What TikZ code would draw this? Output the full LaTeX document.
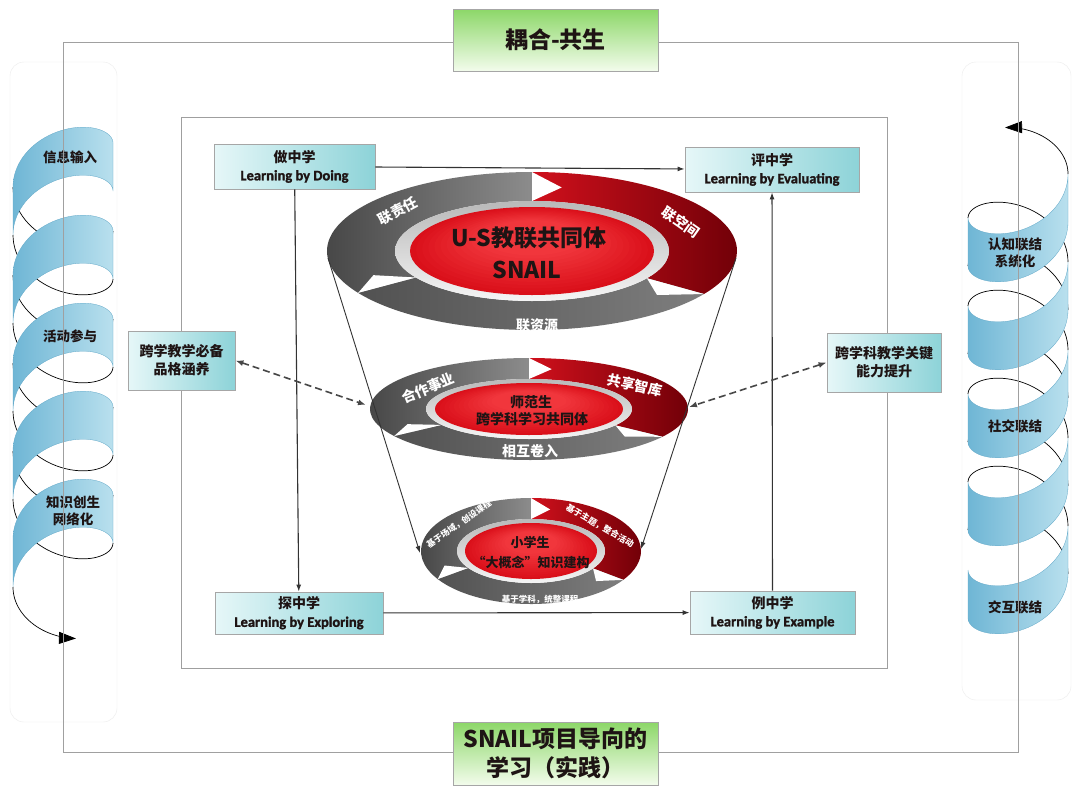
\documentclass[tikz,border=0pt]{standalone}
\usepackage{fontspec}
\setmainfont{Carlito}[BoldFeatures={FakeBold=1.5}]
\newfontfamily\cjk{Noto Sans CJK SC}
\usetikzlibrary{arrows.meta}
\definecolor{boxL}{HTML}{E6F7F8}
\definecolor{boxR}{HTML}{8DD3D8}
\definecolor{grnT}{HTML}{8CD768}
\definecolor{grnB}{HTML}{F3FCEC}
\definecolor{redA}{HTML}{D0101C}
\definecolor{redB}{HTML}{720008}
\definecolor{grayA}{HTML}{8C8C8C}
\definecolor{grayB}{HTML}{3E3E3E}
\definecolor{coreA}{HTML}{F2383E}
\definecolor{coreB}{HTML}{DA101A}
\definecolor{ribA}{HTML}{6FB6D5}
\definecolor{ribB}{HTML}{B9E0EE}
\definecolor{ribE}{HTML}{62A8C8}
\definecolor{frameC}{HTML}{A0A0A0}
\definecolor{darktext}{HTML}{1E1414}
\newcommand\snailring[9]{%
  \path[segL] ({#1+#3*cos(212)},{#2-#4*sin(212)}) arc[start angle=-212,end angle=-90,x radius=#3,y radius=#4]
     -- ({#1},{#2-#6}) arc[start angle=-90,end angle=-212,x radius=#5,y radius=#6] -- cycle;
  \path[segR] ({#1},{#2-#4}) arc[start angle=-90,end angle=33,x radius=#3,y radius=#4]
     -- ({#1+#5*cos(-33)},{#2-#6*sin(-33)}) arc[start angle=33,end angle=-90,x radius=#5,y radius=#6] -- cycle;
  \path[segB] ({#1+#3*cos(-33)},{#2-#4*sin(-33)}) arc[start angle=33,end angle=148,x radius=#3,y radius=#4]
     -- ({#1+#5*cos(212)},{#2-#6*sin(212)}) arc[start angle=148,end angle=33,x radius=#5,y radius=#6] -- cycle;
  \foreach \p in {90,-33,212}{%
    \fill[white] ({#1+#3*cos(\p)},{#2-#4*sin(\p)}) -- ({#1+#5*cos(\p)},{#2-#6*sin(\p)})
      -- ({#1+0.5*(#3+#5)*cos(\p-#9)},{#2-0.5*(#4+#6)*sin(\p-#9)}) -- cycle;}
  \path[bevel] (#1,#2) ellipse[x radius=#5,y radius=#6];
  \fill[coreB] (#1,#2) ellipse[x radius=#7,y radius=#8];
  \foreach \k in {1,...,12}{%
    \pgfmathsetmacro\rsf{1-0.05*\k}%
    \pgfmathtruncatemacro\rcm{\k*8}%
    \fill[coreA!\rcm!coreB] (#1,{#2-0.025*\k*#8}) ellipse[x radius={\rsf*#7},y radius={\rsf*#8}];}
}
\begin{document}
\begin{tikzpicture}[x=1pt,y=-1pt,
  declare function={la(\t)=63-50*cos(\t); lb(\t)=99+88*(\t/360)+35*sin(\t);
                    ra(\t)=1018-50*cos(\t); rb(\t)=570-88*(\t/360)+35*sin(\t);},
  ribbon/.style={left color=ribA, right color=ribB, draw=ribE, line width=0.3pt},
  edgeline/.style={draw=black, line width=0.7pt},
  tailarrow/.style={edgeline, -{Triangle[length=17pt,width=12pt]}},
  frame/.style={draw=frameC, line width=1pt},
  spl/.style={font=\cjk\bfseries\fontsize{13.5}{17}\selectfont, align=center, text=darktext, inner sep=0pt},
  cyanbox/.style={draw=gray!70, line width=0.8pt, left color=boxL, right color=boxR, align=center, inner sep=0pt, text=darktext, font=\fontsize{14}{18}\selectfont},
  greenbox/.style={draw=gray!70, line width=0.8pt, top color=grnT, bottom color=grnB, align=center, inner sep=0pt, text=darktext, font=\cjk\bfseries\fontsize{23}{29}\selectfont, minimum width=205pt},
  segL/.style={left color=grayB, right color=grayA},
  segR/.style={left color=redA, right color=redB},
  segB/.style={left color=grayB!90, right color=grayA!90!black},
  bevel/.style={top color=gray!55, bottom color=gray!8},
  rlbl/.style={text=white, font=\cjk\bfseries\fontsize{14}{14}\selectfont, inner sep=0pt},
  slbl/.style={text=white, font=\cjk\bfseries\fontsize{8.5}{9}\selectfont, inner sep=0pt},
  coretxt/.style={text=darktext, font=\cjk\bfseries\fontsize{14}{17}\selectfont, inner sep=0pt, align=center},
  conn/.style={draw=black!80, line width=1.1pt, -{Latex[length=7pt,width=5pt]}},
  dconn/.style={draw=black!72, line width=1.6pt, dash pattern=on 7pt off 4pt, {Latex[length=8pt,width=6pt]}-{Latex[length=8pt,width=6pt]}}
]
\useasboundingbox (0,0) rectangle (1081,795);
\fill[white] (0,0) rectangle (1081,795);

% ---------- left spiral ----------
\draw[gray!15, rounded corners=14pt] (10,62) rectangle (117,722);
\foreach \a/\b in {360/540,720/900,1080/1260,1440/1620}{
  \draw[edgeline] plot[domain=\a:\b, samples=36, variable=\t] ({la(\t)},{lb(\t)});
  \draw[edgeline] plot[domain=\a:\b, samples=36, variable=\t] ({la(\t)},{lb(\t)+48});
}
\foreach \a/\b in {180/360,540/720,900/1080,1260/1440,1620/1800}{
  \path[ribbon] plot[domain=\a:\b, samples=40, variable=\t] ({la(\t)},{lb(\t)})
     -- plot[domain=\a:\b, samples=40, variable=\t] ({la(\a+\b-\t)},{lb(\a+\b-\t)+48}) -- cycle;
}
\draw[tailarrow] plot[domain=1800:1905, samples=30, variable=\t] ({la(\t)},{lb(\t)+48-8*(\t-1800)/105});
\node[spl] (s1) at (70,157) {信息输入};
\node[spl] (s2) at (70,336) {活动参与};
\node[spl] (s3) at (73,511) {知识创生\\网络化};

% ---------- right spiral ----------
\draw[gray!15, rounded corners=14pt] (962,62) rectangle (1071,700);
\foreach \a/\b in {180/360,540/720,900/1080,1260/1440}{
  \draw[edgeline] plot[domain=\a:\b, samples=36, variable=\t] ({ra(\t)},{rb(\t)});
  \draw[edgeline] plot[domain=\a:\b, samples=36, variable=\t] ({ra(\t)},{rb(\t)+48});
}
\foreach \a/\b in {0/180,360/540,720/900,1080/1260,1440/1620}{
  \path[ribbon] plot[domain=\a:\b, samples=40, variable=\t] ({ra(\t)},{rb(\t)})
     -- plot[domain=\a:\b, samples=40, variable=\t] ({ra(\a+\b-\t)},{rb(\a+\b-\t)+48}) -- cycle;
}
\draw[tailarrow] plot[domain=1620:1725, samples=30, variable=\t] ({ra(\t)},{rb(\t)+13*(\t-1620)/105});
\node[spl] (r1) at (1015,253) {认知联结\\系统化};
\node[spl] (r2) at (1015,426) {社交联结};
\node[spl] (r3) at (1015,607) {交互联结};

% ---------- frames ----------
\draw[frame] (63,42) rectangle (1018,752);
\draw[frame, draw=gray!75] (181,117) rectangle (887,668);

% ---------- boxes ----------
\node[greenbox, minimum height=62pt] (tbox) at (555.5,40) {耦合-共生};
\node[greenbox, minimum height=63pt] (bbox) at (555.5,753.5) {SNAIL项目导向的\\学习（实践）};

\node[cyanbox, minimum width=161pt, minimum height=45pt] (doing) at (294.5,166.5)
  {{\cjk\bfseries 做中学}\\{\bfseries\fontsize{14.5}{18}\selectfont Learning by Doing}};
\node[cyanbox, minimum width=174pt, minimum height=45pt] (eval) at (772,169.5)
  {{\cjk\bfseries 评中学}\\{\bfseries\fontsize{14.5}{18}\selectfont Learning by Evaluating}};
\node[cyanbox, minimum width=168pt, minimum height=42pt] (explore) at (299,613)
  {{\cjk\bfseries 探中学}\\{\bfseries\fontsize{14.5}{18}\selectfont Learning by Exploring}};
\node[cyanbox, minimum width=165pt, minimum height=43pt] (example) at (772.5,612.5)
  {{\cjk\bfseries 例中学}\\{\bfseries\fontsize{14.5}{18}\selectfont Learning by Example}};
\node[cyanbox, minimum width=107pt, minimum height=59pt, font=\cjk\bfseries\fontsize{14}{18}\selectfont] (lbox) at (181.5,360.5) {跨学教学必备\\品格涵养};
\node[cyanbox, minimum width=114pt, minimum height=59pt, font=\cjk\bfseries\fontsize{14}{18}\selectfont] (rbox) at (884,362.5) {跨学科教学关键\\能力提升};

% ---------- rings ----------
\snailring{532}{251}{205}{79}{137}{50}{122}{44}{10}
\node[coretxt, font=\cjk\bfseries\fontsize{23}{28}\selectfont] (b4) at (529,238) {\textcolor{darktext}{U-S教联共同体}};
\node[coretxt, font=\cjk\bfseries\fontsize{23}{28}\selectfont] (b5) at (527,270) {\textcolor{darktext}{SNAIL}};
\node[rlbl, rotate=28] (b1) at (398,211) {联责任};
\node[rlbl, rotate=-35] (b2) at (681,222) {联空间};
\node[rlbl] (b3) at (537,325) {联资源};

\snailring{529}{409}{159}{51}{103}{30}{94}{26}{10}
\node[coretxt] (m4) at (531,402) {\textcolor{darktext}{师范生}};
\node[coretxt] (m5) at (532,419) {\textcolor{darktext}{跨学科学习共同体}};
\node[rlbl, rotate=22] (m1) at (428,388) {合作事业};
\node[rlbl, rotate=-12] (m2) at (635,385) {共享智库};
\node[rlbl] (m3) at (530,451) {相互卷入};

\snailring{531}{551}{110}{53}{74}{32}{66}{28}{12}
\node[coretxt, font=\cjk\bfseries\fontsize{13}{16}\selectfont] (n4) at (530,542) {\textcolor{darktext}{小学生}};
\node[coretxt, font=\cjk\bfseries\fontsize{13}{16}\selectfont] (n5) at (531,562) {\textcolor{darktext}{“大概念”知识建构}};
\node[slbl, rotate=35] (n1) at (459,524) {基于场域，创设课程};
\node[slbl, rotate=-30] (n2) at (600,526) {基于主题，整合活动};
\node[slbl] (n3) at (540,599) {基于学科，统整课程};

% ---------- connectors ----------
\coordinate (bigL) at (328,258);
\coordinate (smallL) at (420,553);
\coordinate (bigR) at (736,258);
\coordinate (smallR) at (641,549);
\coordinate (midL) at (366,405);
\coordinate (midR) at (689,407);
\draw[conn] (doing) -- (eval);
\draw[conn] (doing) -- (explore);
\draw[conn] (explore) -- (example);
\draw[conn] (example) -- (eval);
\draw[conn, line width=0.9pt] (bigL) -- (smallL);
\draw[conn, line width=0.9pt] (bigR) -- (smallR);
\draw[dconn] (lbox.east) -- (midL);
\draw[dconn] (rbox.west) -- (midR);
\end{tikzpicture}
\end{document}
